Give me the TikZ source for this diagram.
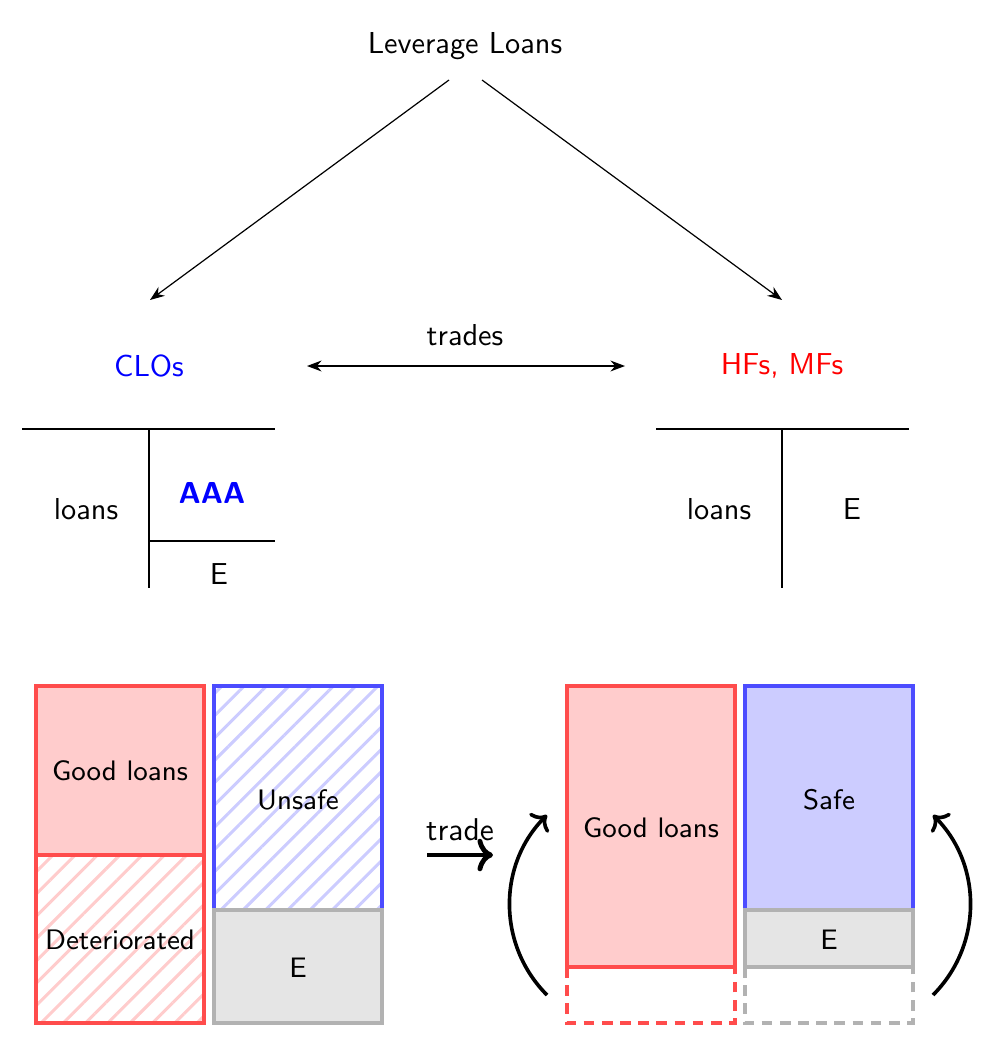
\documentclass[tikz,border=0pt]{standalone}
\usetikzlibrary{patterns.meta, arrows.meta}

\begin{document}
\begin{tikzpicture}[x=0.33pt, y=-0.33pt,
        every node/.style={font=\sffamily},
        boxlabel/.style={font=\sffamily\fontsize{9.3}{11}\selectfont},
        tline/.style={semithick},
        goodbox/.style={draw=red!70, ultra thick, fill=red!20},
        badbox/.style={draw=red!70, ultra thick, pattern={Lines[angle=45, distance=5.2pt, line width=1pt]}, pattern color=red!20},
        unsafebox/.style={draw=blue!70, ultra thick, pattern={Lines[angle=45, distance=5.2pt, line width=1pt]}, pattern color=blue!20},
        safebox/.style={draw=blue!70, ultra thick, fill=blue!20},
        equitybox/.style={draw=black!30, ultra thick, fill=black!10},
        goneredbox/.style={draw=red!70, ultra thick, dash pattern=on 3.5pt off 2.5pt},
        gonegraybox/.style={draw=black!30, ultra thick, dash pattern=on 3.5pt off 2.5pt}]
        \useasboundingbox (0,0) rectangle (990,1064);
        % top: who holds the loans
        \node (lev) at (465,46) {Leverage Loans};
        \node[text=blue] (clo) at (149,366) {CLOs};
        \node[text=red] (hf) at (782,366) {HFs, MFs};
        \node (trades) at (465,335) {trades};
        \coordinate (levleft) at (449,80);
        \coordinate (levright) at (482,80);
        \coordinate (clotop) at (150,300);
        \coordinate (hftop) at (782,300);
        \coordinate (tradesleft) at (307,366);
        \coordinate (tradesright) at (625,366);
        \draw[-Stealth] (levleft) -- (clotop);
        \draw[-Stealth] (levright) -- (hftop);
        \draw[Stealth-Stealth] (tradesleft) -- (tradesright);
        % balance sheets
        \draw[tline] (22,429) -- (275,429);
        \draw[tline] (149,429) -- (149,588);
        \draw[tline] (149,541) -- (275,541);
        \node (cloloans) at (86,509) {loans};
        \node[text=blue, font=\sffamily\bfseries] (aaa) at (212,493) {AAA};
        \node (cloequity) at (219,574) {E};
        \draw[tline] (656,429) -- (909,429);
        \draw[tline] (782,429) -- (782,588);
        \node (hfloans) at (719,509) {loans};
        \node (hfequity) at (852,509) {E};
        % before the trade
        \draw[badbox] (36,855) rectangle (204,1023);
        \draw[goodbox] (36,686) rectangle (204,855);
        \draw[unsafebox] (214,686) rectangle (382,910);
        \draw[equitybox] (214,910) rectangle (382,1023);
        \node[boxlabel] (goodbefore) at (120,771) {Good loans};
        \node[boxlabel] (deteriorated) at (120,940) {Deteriorated};
        \node[boxlabel] (unsafe) at (298,800) {Unsafe};
        \node[boxlabel] (equitybefore) at (298,968) {E};
        \node[font=\sffamily\fontsize{10.4}{12}\selectfont] (trade) at (460,830) {trade};
        \coordinate (tradestart) at (427,855);
        \coordinate (tradeend) at (493,855);
        \draw[->, ultra thick] (tradestart) -- (tradeend);
        % after the trade
        \draw[goneredbox] (567,967) rectangle (735,1023);
        \draw[gonegraybox] (745,967) rectangle (913,1023);
        \draw[goodbox] (567,686) rectangle (735,967);
        \draw[safebox] (745,686) rectangle (913,910);
        \draw[equitybox] (745,910) rectangle (913,967);
        \node[boxlabel] (goodafter) at (651,828) {Good loans};
        \node[boxlabel] (safe) at (829,800) {Safe};
        \node[boxlabel] (equityafter) at (829,940) {E};
        \coordinate (leftlow) at (547,995);
        \coordinate (lefthigh) at (547,815);
        \coordinate (rightlow) at (933,995);
        \coordinate (righthigh) at (933,815);
        \draw[->, very thick] (leftlow) to[bend left=45] (lefthigh);
        \draw[->, very thick] (rightlow) to[bend right=45] (righthigh);
\end{tikzpicture}
\end{document}
